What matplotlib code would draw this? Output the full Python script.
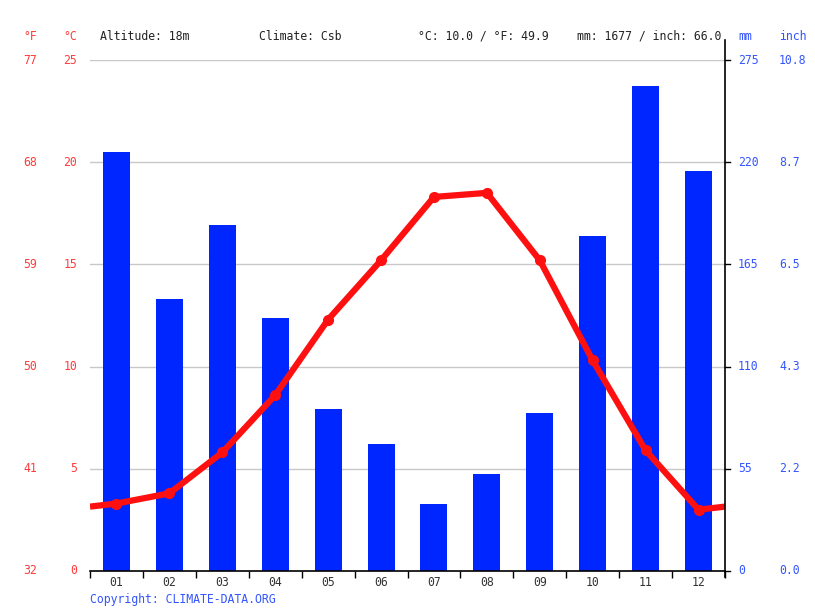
import matplotlib
matplotlib.use("Agg")
import matplotlib.pyplot as plt
import numpy as np
from matplotlib.lines import Line2D

months = ["01", "02", "03", "04", "05", "06", "07", "08", "09", "10", "11", "12"]
precip_mm = [225.5, 146.4, 186.2, 136.2, 87.2, 68.4, 36.1, 52.2, 85.0, 180.3, 261.0, 215.3]
temp_c = [3.3, 3.8, 5.8, 8.6, 12.3, 15.2, 18.3, 18.5, 15.2, 10.3, 5.9, 3.0]
c_ticks = [0, 5, 10, 15, 20, 25]
f_labels = ["32", "41", "50", "59", "68", "77"]
mm_ticks = [0, 55, 110, 165, 220, 275]
inch_labels = ["0.0", "2.2", "4.3", "6.5", "8.7", "10.8"]
header_texts = ["Altitude: 18m", "Climate: Csb", "°C: 10.0 / °F: 49.9", "mm: 1677 / inch: 66.0"]

W, H = 815, 611
FONT = "DejaVu Sans Mono"
FS = 8.3
RED = "#ff1010"
RED_LBL = "#ff3b3b"
BLUE_BAR = "#0026ff"
BLUE_LBL = "#3355ff"

fig = plt.figure(figsize=(W / 100, H / 100), dpi=100)
L, R, T, B = 90, 725, 60, 571
ax = fig.add_axes([L / W, 1 - B / H, (R - L) / W, (B - T) / H])

x = np.arange(1, 13)
ax.set_xlim(0.5, 12.5)
ax.set_ylim(0, 275)
ax.set_axisbelow(True)
ax.bar(x, precip_mm, width=0.51, color=BLUE_BAR, zorder=2)
for t in mm_ticks[1:]:
    ax.axhline(t, color="#c8c8c8", lw=1, zorder=1)

for s in ["left", "top", "right"]:
    ax.spines[s].set_visible(False)
ax.spines["bottom"].set_color("black")
ax.spines["bottom"].set_linewidth(1.2)

ax.set_yticks([])
ax.set_xticks(np.arange(0.5, 13.0, 1.0))
ax.set_xticklabels([])
ax.tick_params(axis="x", direction="out", length=5, width=1, color="black")
month_y = 1 - 582 / H
for xi, m in zip(x, months):
    xf = (L + (R - L) * (xi - 0.5) / 12) / W
    fig.text(xf, month_y, m, ha="center", va="center", fontsize=FS, family=FONT, color="#333333")

# right spine extended
fig.add_artist(Line2D([R / W, R / W], [1 - 577 / H, 1 - 40 / H], color="black", lw=1.2, transform=fig.transFigure))

# temperature axis
ax2 = ax.twinx()
ax2.set_ylim(0, 25)
ax2.set_xlim(0.5, 12.5)
ax2.axis("off")
edge = (temp_c[0] + temp_c[-1]) / 2
tx = np.concatenate([[0.5], x, [12.5]])
ty = np.concatenate([[edge], temp_c, [edge]])
ax2.plot(tx, ty, color=RED, lw=4.5, solid_joinstyle="round", solid_capstyle="butt", zorder=5)
ax2.plot(x, temp_c, "o", color=RED, ms=7, zorder=6)

# left labels
for c, f in zip(c_ticks, f_labels):
    yy = 1 - (B - (B - T) * c / 25) / H
    fig.text(77 / W, yy, str(c), ha="right", va="center", fontsize=FS, family=FONT, color=RED_LBL)
    fig.text(37 / W, yy, f, ha="right", va="center", fontsize=FS, family=FONT, color=RED_LBL)
# right labels
for m, i in zip(mm_ticks, inch_labels):
    yy = 1 - (B - (B - T) * m / 275) / H
    fig.text(738 / W, yy, str(m), ha="left", va="center", fontsize=FS, family=FONT, color=BLUE_LBL)
    fig.text(779 / W, yy, i, ha="left", va="center", fontsize=FS, family=FONT, color=BLUE_LBL)
    fig.add_artist(Line2D([R / W, (R + 5) / W], [yy, yy], color="black", lw=1, transform=fig.transFigure))

hy = 1 - 36 / H
fig.text(37 / W, hy, "°F", ha="right", va="center", fontsize=FS, family=FONT, color=RED_LBL)
fig.text(77 / W, hy, "°C", ha="right", va="center", fontsize=FS, family=FONT, color=RED_LBL)
fig.text(738 / W, hy, "mm", ha="left", va="center", fontsize=FS, family=FONT, color=BLUE_LBL)
fig.text(779 / W, hy, "inch", ha="left", va="center", fontsize=FS, family=FONT, color=BLUE_LBL)
for xs, s in zip([100, 259, 418], header_texts[:3]):
    fig.text(xs / W, hy, s, ha="left", va="center", fontsize=FS, family=FONT, color="#222222")
fig.text(721 / W, hy, header_texts[3], ha="right", va="center", fontsize=FS, family=FONT, color="#222222")

fig.text(90 / W, 1 - 599 / H, "Copyright: CLIMATE-DATA.ORG", ha="left", va="center", fontsize=FS, family=FONT, color=BLUE_LBL)

fig.savefig("out.png", dpi=100)
